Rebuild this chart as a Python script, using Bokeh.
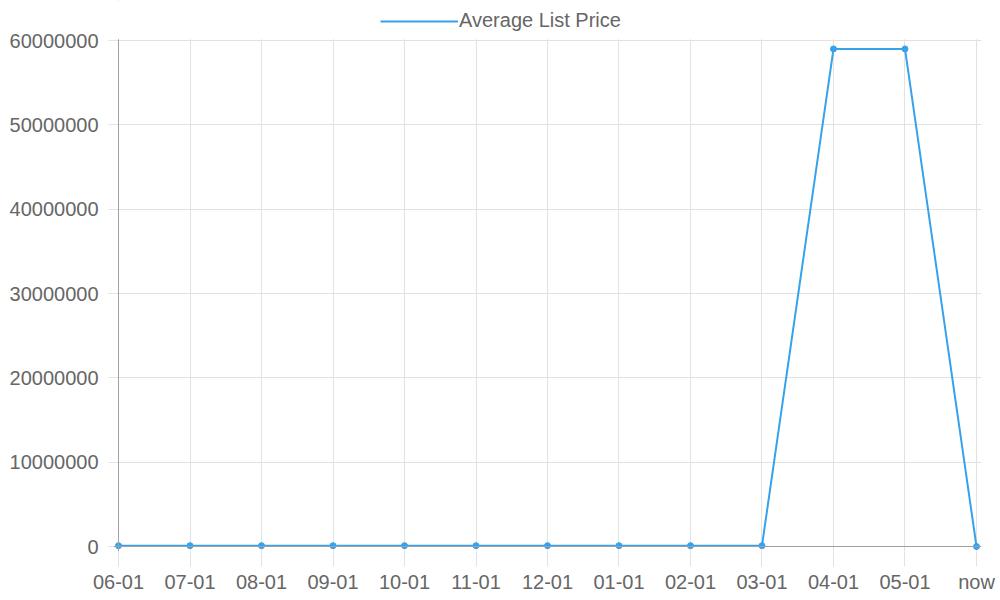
from bokeh.plotting import figure
from bokeh.models import (Range1d, FixedTicker, Span, Legend, LegendItem,
                          ColumnDataSource, BoxAnnotation)
from bokeh.embed import file_html
from bokeh.resources import INLINE

labels = ["06-01", "07-01", "08-01", "09-01", "10-01", "11-01", "12-01",
          "01-01", "02-01", "03-01", "04-01", "05-01", "now"]
prices = [100000, 100000, 100000, 100000, 100000, 100000, 100000,
          100000, 100000, 100000, 59000000, 59000000, 0]
y_ticks = [0, 10000000, 20000000, 30000000, 40000000, 50000000, 60000000]
series_name = "Average List Price"

xs = list(range(len(labels)))
src = ColumnDataSource(dict(x=xs, y=prices))

BLUE = "#36a2eb"
TXT = "#666666"
GRID = "#e2e2e2"
FONT = "Liberation Sans"

y_max = y_ticks[-1]
px_per_val = 506 / y_max          # 506 px between 0 and the top tick
p = figure(width=1000, height=600, output_backend="svg", toolbar_location=None,
           x_range=Range1d(-0.07, len(labels) - 1 + 0.07),
           y_range=Range1d(-5 / px_per_val, 546 / px_per_val),
           min_border_left=113, min_border_right=19, min_border_top=0, min_border_bottom=49)
p.outline_line_color = None

p.xaxis.ticker = FixedTicker(ticks=xs)
p.xaxis.major_label_overrides = {i: l for i, l in enumerate(labels)}
p.yaxis.ticker = FixedTicker(ticks=y_ticks)
p.yaxis.formatter.use_scientific = False
for ax in (p.xaxis, p.yaxis):
    ax.axis_line_color = None
    ax.major_tick_line_color = GRID
    ax.minor_tick_line_color = None
    ax.major_label_text_color = TXT
    ax.major_label_text_font = FONT
    ax.major_label_text_font_size = "20px"
    ax.major_tick_in = 0
p.xaxis.major_tick_out = 15
p.xaxis.major_label_standoff = 4
p.yaxis.major_tick_out = 5
p.yaxis.major_label_standoff = 10

p.xgrid.ticker = FixedTicker(ticks=xs)
p.ygrid.ticker = FixedTicker(ticks=y_ticks)
p.grid.grid_line_color = GRID
p.grid.grid_line_width = 1

p.add_layout(Span(location=0, dimension="width", line_color="#a0a0a0", line_width=1))
p.add_layout(Span(location=0, dimension="height", line_color="#a0a0a0", line_width=1))

# blank out the area above the top tick (room for the legend)
p.add_layout(BoxAnnotation(bottom=y_max + 1.2 / px_per_val, fill_color="white", fill_alpha=1,
                           line_color=None))

line = p.line("x", "y", source=src, line_color=BLUE, line_width=2)
p.scatter("x", "y", source=src, size=6, fill_color=BLUE, line_color=BLUE)

legend = Legend(items=[LegendItem(label=series_name, renderers=[line])],
                location=(267, 519), orientation="horizontal",
                glyph_width=78, glyph_height=20, label_height=20, label_standoff=1,
                padding=0, spacing=0, margin=0,
                border_line_color=None, background_fill_alpha=0,
                label_text_font=FONT, label_text_font_size="20px", label_text_color=TXT)
p.add_layout(legend, "center")

open("out.html", "w").write(file_html(p, INLINE))
